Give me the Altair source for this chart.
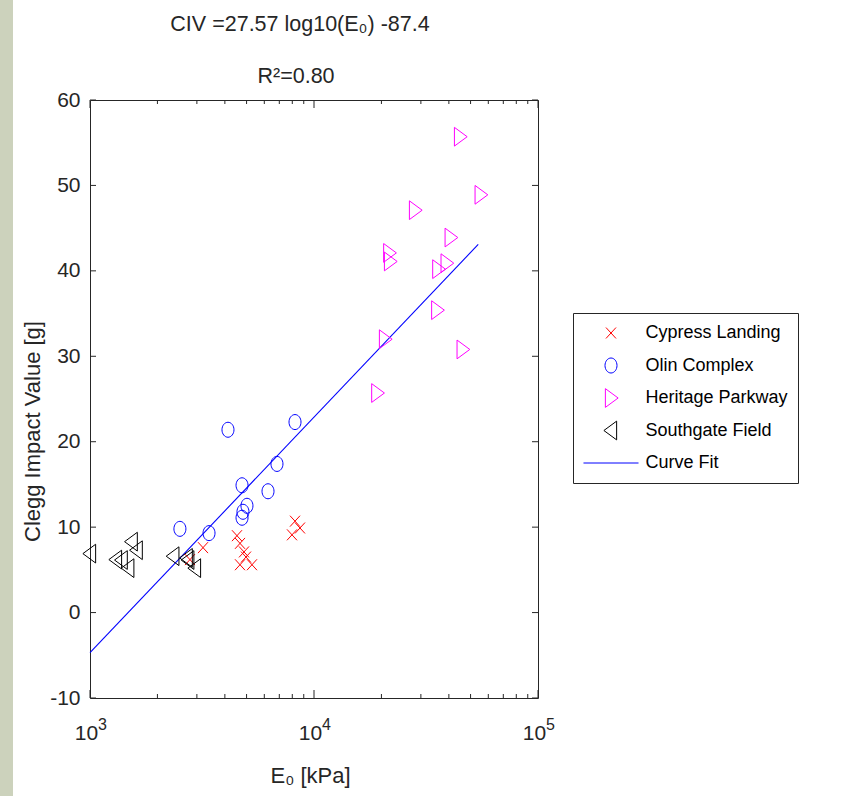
import altair as alt
import pandas as pd

# ---------------- data ----------------
series_names = ["Cypress Landing", "Olin Complex", "Heritage Parkway", "Southgate Field", "Curve Fit"]
series_colors = ["#ff0000", "#0000ff", "#ff00ff", "#000000", "#0000ff"]

cypress_E = [3195, 4530, 4674, 4870, 4970, 4674, 5286, 8226, 8659, 7976, 2794]
cypress_CIV = [7.6, 9.0, 8.1, 7.1, 6.5, 5.6, 5.6, 10.7, 9.9, 9.1, 6.2]

olin_E = [4130, 8226, 6834, 4772, 6233, 5020, 4819, 4772, 2520, 3399]
olin_CIV = [21.4, 22.3, 17.4, 14.9, 14.2, 12.5, 11.8, 11.1, 9.8, 9.3]

heritage_E = [44870, 55480, 28250, 40760, 21680, 21850, 39100, 35890, 35500, 20750, 46100, 19170]
heritage_CIV = [55.7, 48.9, 47.1, 43.9, 42.1, 41.1, 40.9, 40.2, 35.4, 32.0, 30.8, 25.7]

southgate_E = [1000, 1306, 1385, 1482, 1535, 1616, 2355, 2702, 2746, 2942]
southgate_CIV = [6.9, 6.2, 6.15, 5.2, 8.3, 7.3, 6.6, 6.4, 6.15, 5.2]

fit_E = [1000, 54100]
fit_CIV = [-4.7, 43.1]

x_major = [1000, 10000, 100000]
x_tick_bases = ["10", "10", "10"]
x_tick_exponents = ["3", "4", "5"]
x_minor = [2000, 3000, 4000, 5000, 6000, 7000, 8000, 9000,
           20000, 30000, 40000, 50000, 60000, 70000, 80000, 90000]
y_ticks = [-10, 0, 10, 20, 30, 40, 50, 60]

title_line1 = "CIV =27.57 log10(E₀) -87.4"
title_line2 = "R²=0.80"
x_title = "E₀ [kPa]"
y_title = "Clegg Impact Value [g]"

# ---------------- styling ----------------
FONT = "Liberation Sans, Arial, Helvetica"
AX = "#262626"
W, H = 448, 598

shape_paths = [
    "M-0.67,-0.73L0.67,0.73M-0.67,0.73L0.67,-0.73",
    "M-0.8,0A0.8,1,0,1,1,0.8,0A0.8,1,0,1,1,-0.8,0Z",
    "M-0.75,-1.25L-0.75,1.25L0.95,0Z",
    "M0.75,-1.25L0.75,1.25L-0.95,0Z",
    "M-3.67,0L3.67,0",
]

rows = []
for name, es, vs in [
    (series_names[0], cypress_E, cypress_CIV),
    (series_names[1], olin_E, olin_CIV),
    (series_names[2], heritage_E, heritage_CIV),
    (series_names[3], southgate_E, southgate_CIV),
]:
    for e, v in zip(es, vs):
        rows.append({"E": e, "CIV": v, "series": name})
pts = pd.DataFrame(rows)
fit = pd.DataFrame({"E": fit_E, "CIV": fit_CIV})

xs = alt.Scale(type="log", domain=[x_major[0], x_major[-1]], nice=False)
ys = alt.Scale(domain=[y_ticks[0], y_ticks[-1]], nice=False, zero=False)

label_expr = "''"
for val, lab in reversed(list(zip(x_major, x_tick_bases))):
    label_expr = f"datum.value == {val} ? '{lab}' : ({label_expr})"

x_axis = alt.Axis(values=x_major, labelExpr=label_expr, grid=False, ticks=False, domain=False,
                  labelFont=FONT, labelFontSize=21, labelColor=AX, labelPadding=24,
                  labelOffset=-4, labelFlush=False, labelOverlap=False,
                  title=x_title, titleFont=FONT, titleFontSize=22, titleFontWeight="normal",
                  titleColor=AX, titleX=220, titleY=84, titleBaseline="alphabetic", titleAlign="center")
y_axis = alt.Axis(values=y_ticks, labelExpr="'' + datum.value", grid=False, ticks=False, domain=False,
                  labelFont=FONT, labelFontSize=21, labelColor=AX, labelPadding=10,
                  labelFlush=False,
                  title=y_title, titleFont=FONT, titleFontSize=22, titleFontWeight="normal",
                  titleColor=AX, titleAngle=270, titleX=-58, titleY=331,
                  titleAlign="center", titleBaseline="middle")

one = pd.DataFrame({"a": [0]})

strip = alt.Chart(one).mark_rect(color="#ccd2bc").encode(
    x=alt.value(-90), x2=alt.value(-77), y=alt.value(-100), y2=alt.value(H + 98))

points = alt.Chart(pts).mark_point(filled=False, size=225, strokeWidth=1, opacity=1).encode(
    x=alt.X("E:Q", scale=xs, axis=x_axis),
    y=alt.Y("CIV:Q", scale=ys, axis=y_axis),
    color=alt.Color("series:N", scale=alt.Scale(domain=series_names, range=series_colors),
                    legend=alt.Legend(title=None)),
    shape=alt.Shape("series:N", scale=alt.Scale(domain=series_names, range=shape_paths),
                    legend=alt.Legend(title=None)),
)

fitline = alt.Chart(fit).mark_line(color="#0000ff", strokeWidth=1.1).encode(
    x=alt.X("E:Q", scale=xs, axis=x_axis), y=alt.Y("CIV:Q", scale=ys, axis=y_axis))

xmaj = pd.DataFrame({"E": x_major, "exp": x_tick_exponents})
xmin = pd.DataFrame({"E": x_minor})
yt = pd.DataFrame({"CIV": y_ticks})

def xticks(df, y0, y1):
    return alt.Chart(df).mark_rule(color=AX, strokeWidth=1).encode(
        x=alt.X("E:Q", scale=xs, axis=x_axis), y=alt.value(y0), y2=alt.value(y1))

def yticks(x0, x1):
    return alt.Chart(yt).mark_rule(color=AX, strokeWidth=1).encode(
        y=alt.Y("CIV:Q", scale=ys, axis=y_axis), x=alt.value(x0), x2=alt.value(x1))

exponents = alt.Chart(xmaj).mark_text(
    font=FONT, fontSize=16, color=AX, align="left", baseline="alphabetic", dx=8
).encode(x=alt.X("E:Q", scale=xs, axis=x_axis), y=alt.value(H + 32), text="exp:N")

def title_text(txt, cx, by):
    return alt.Chart(pd.DataFrame({"t": [txt]})).mark_text(
        font=FONT, fontSize=21.5, color=AX, align="center", baseline="alphabetic"
    ).encode(text="t:N", x=alt.value(cx), y=alt.value(by))

chart = alt.layer(
    strip,
    xticks(xmaj, H, H - 8), xticks(xmaj, 0, 8),
    xticks(xmin, H, H - 4), xticks(xmin, 0, 4),
    yticks(0, 6), yticks(W, W - 6),
    fitline, points, exponents,
    title_text(title_line1, 210, -69),
    title_text(title_line2, 206, -17),
).properties(
    width=W, height=H,
    autosize=alt.AutoSizeParams(type="none"),
    padding={"left": 90, "top": 100, "right": 846 - 90 - W, "bottom": 796 - 100 - H},
).configure(background="white").configure_view(
    stroke=AX, strokeWidth=1
).configure_legend(
    orient="none", legendX=483, legendY=213, padding=9.5,
    strokeColor=AX, fillColor="white", cornerRadius=0,
    symbolSize=225, symbolStrokeWidth=1, symbolOffset=19.5,
    labelFont=FONT, labelFontSize=18, labelColor="#000000", labelOffset=25.5,
    labelLimit=400, rowPadding=11.5, clipHeight=21,
)

chart.save("out.html", embed_options={"renderer": "svg", "actions": False})
